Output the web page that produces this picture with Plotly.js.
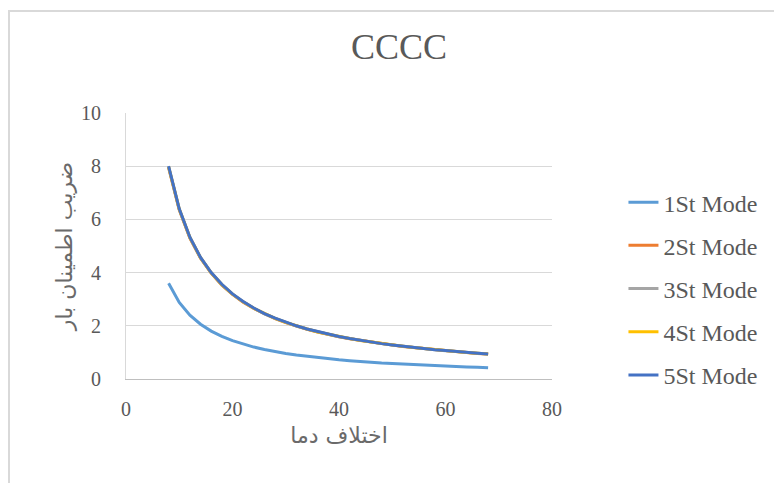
<!DOCTYPE html>
<html>
<head>
<meta charset="utf-8">
<script src="https://cdn.plot.ly/plotly-3.0.1.min.js"></script>
<style>
html,body{margin:0;padding:0;background:#fff;}
#wrap{position:relative;width:774px;height:483px;}
#chart{position:absolute;left:0;top:0;width:774px;height:483px;}
#frame{position:absolute;left:8px;top:10px;width:800px;height:500px;border-top:2px solid #d9d9d9;border-left:2px solid #d9d9d9;pointer-events:none;}
</style>
</head>
<body>
<div id="wrap"><div id="chart"></div><div id="frame"></div></div>
<script>
// Temperature difference (x)
const tempDiff = [8,10,12,14,16,18,20,22,24,26,28,30,32,34,36,38,40,42,44,46,48,50,52,54,56,58,60,62,64,66,68];
// Load safety factor per mode (y)
const mode1 = [3.60,2.88,2.40,2.06,1.80,1.60,1.44,1.31,1.20,1.11,1.03,0.96,0.90,0.85,0.80,0.76,0.72,0.69,0.65,0.63,0.60,0.58,0.55,0.53,0.51,0.50,0.48,0.46,0.45,0.44,0.42];
const mode2 = [7.95,6.36,5.30,4.54,3.98,3.53,3.18,2.89,2.65,2.45,2.27,2.12,1.99,1.87,1.77,1.67,1.59,1.51,1.45,1.38,1.33,1.27,1.22,1.18,1.14,1.10,1.06,1.03,0.99,0.96,0.94];
const mode3 = [7.97,6.38,5.31,4.55,3.99,3.54,3.19,2.90,2.66,2.45,2.28,2.13,1.99,1.88,1.77,1.68,1.59,1.52,1.45,1.39,1.33,1.28,1.23,1.18,1.14,1.10,1.06,1.03,1.00,0.97,0.94];
const mode4 = [7.98,6.39,5.32,4.56,3.99,3.55,3.19,2.90,2.66,2.46,2.28,2.13,2.00,1.88,1.77,1.68,1.60,1.52,1.45,1.39,1.33,1.28,1.23,1.18,1.14,1.10,1.07,1.03,1.00,0.97,0.94];
const mode5 = [8.00,6.40,5.33,4.57,4.00,3.56,3.20,2.91,2.67,2.46,2.29,2.13,2.00,1.88,1.78,1.68,1.60,1.52,1.45,1.39,1.33,1.28,1.23,1.19,1.14,1.10,1.07,1.03,1.00,0.97,0.94];
const seriesNames = ['1St Mode','2St Mode','3St Mode','4St Mode','5St Mode'];
const seriesColors = ['#5B9BD5','#ED7D31','#A5A5A5','#FFC000','#4472C4'];
const chartTitle = 'CCCC';
const xTitle = 'اختلاف دما';
const yTitle = 'ضریب اطمینان بار';

const allY = [mode1, mode2, mode3, mode4, mode5];
const traces = allY.map((ys, i) => ({
  x: tempDiff, y: ys, type: 'scatter', mode: 'lines',
  name: seriesNames[i], legendgroup: 'g' + i,
  line: {color: seriesColors[i], width: 3}
}));

const layout = {
  width: 774, height: 483,
  margin: {l: 126, r: 221, t: 113, b: 104},
  paper_bgcolor: 'rgba(0,0,0,0)', plot_bgcolor: '#fff',
  font: {family: '"Liberation Serif", "Times New Roman", serif', color: '#595959', size: 20},
  title: {text: chartTitle, xref: 'container', yref: 'container', x: 0.5155, y: 0.903,
          xanchor: 'center', yanchor: 'middle',
          font: {family: '"Liberation Serif", serif', size: 36, color: '#595959'}},
  xaxis: {range: [0, 80], tickvals: [0,20,40,60,80], showgrid: false, zeroline: false,
          showline: true, linecolor: '#bfbfbf', linewidth: 1,
          ticks: '', ticklabelstandoff: 12,
          tickfont: {size: 20, color: '#595959'},
          title: {text: xTitle, standoff: 8, font: {family: '"DejaVu Sans", sans-serif', size: 22, color: '#6a6a6a'}}},
  yaxis: {range: [0, 10], tickvals: [0,2,4,6,8,10], showgrid: true, gridcolor: '#d9d9d9', gridwidth: 1,
          zeroline: false, showline: true, linecolor: '#d9d9d9', linewidth: 1,
          ticks: '', ticklabelstandoff: 20,
          tickfont: {size: 20, color: '#595959'},
          title: {text: yTitle, standoff: 2, font: {family: '"DejaVu Sans", sans-serif', size: 22, color: '#6a6a6a'}}},
  showlegend: true,
  legend: {x: 1.165, xanchor: 'left', y: 0.34, yanchor: 'middle', traceorder: 'grouped',
           tracegroupgap: 9, bgcolor: 'rgba(0,0,0,0)',
           font: {family: '"Liberation Serif", serif', size: 24, color: '#595959'}}
};
Plotly.newPlot('chart', traces, layout, {displayModeBar: false, staticPlot: true});
</script>
</body>
</html>
